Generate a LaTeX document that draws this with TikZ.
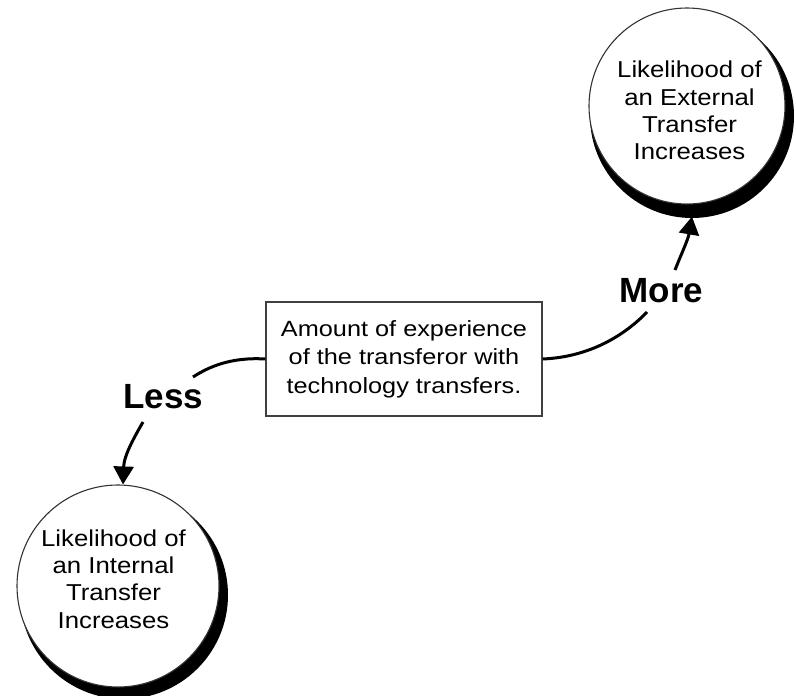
\documentclass[tikz,border=0pt]{standalone}
\usepackage{fontspec}
\setmainfont{Liberation Sans}
\newfontfamily\circfont[FakeStretch=1.12]{Liberation Sans}
\newfontfamily\boxfont[FakeStretch=1.15]{Liberation Sans}
\usetikzlibrary{arrows.meta}

\begin{document}
\begin{tikzpicture}[x=1pt,y=-1pt,
  bubble/.style={circle, draw=black!80, line width=1.1pt, fill=white, inner sep=0pt, minimum size=#1},
  bubbletext/.style={align=center, inner sep=0pt, font=\circfont\fontsize{23}{27.3}\selectfont},
  infobox/.style={draw=black!75, line width=1.3pt, fill=white, minimum width=276pt, minimum height=114pt,
    align=center, inner sep=0pt, font=\boxfont\fontsize{22}{28.5}\selectfont},
  tag/.style={font=\bfseries\fontsize{35}{40}\selectfont, inner sep=0pt},
  link/.style={line width=3pt},
  arrowlink/.style={line width=3pt, -{Triangle[length=18pt,width=20pt]}}
]
\useasboundingbox (0,0) rectangle (796,696);

% crescent shadows behind the two outcome circles
\fill (692,116) circle (102pt);
\fill (124,595) circle (104pt);

% outcome circles
\node[bubble=196pt] (ext) at (687,106) {};
\node[bubbletext] (exttxt) at (689.5,110.6) {Likelihood of\\an External\\Transfer\\Increases};
\node[bubble=202pt] (intc) at (118,586) {};
\node[bubbletext] (inttxt) at (113.5,579) {Likelihood of\\an Internal\\Transfer\\Increases};

% central factor
\node[infobox] (box) at (404,359) {Amount of experience\\of the transferor with\\technology transfers.};

% direction labels
\node[tag, anchor=base] (less) at (163.5,408) {Less};
\node[tag, anchor=base] (more) at (661.5,302) {More};

% free ends of the connectors around the labels
\coordinate (lessin) at (193,377);
\coordinate (lessout) at (143,422);
\coordinate (morein) at (647,312);
\coordinate (moreout) at (675,270);

\draw[link] (box.west) .. controls (232,357) and (210,366) .. (lessin);
\draw[arrowlink] (lessout) .. controls (135,436) and (124,455) .. ([xshift=5pt]intc.north);

\draw[link] (box.east) .. controls (590,357) and (625,335) .. (morein);
\draw[arrowlink] (moreout) .. controls (680,257) and (688,240) .. ([xshift=5pt,yshift=-12pt]ext.south);
\end{tikzpicture}
\end{document}
